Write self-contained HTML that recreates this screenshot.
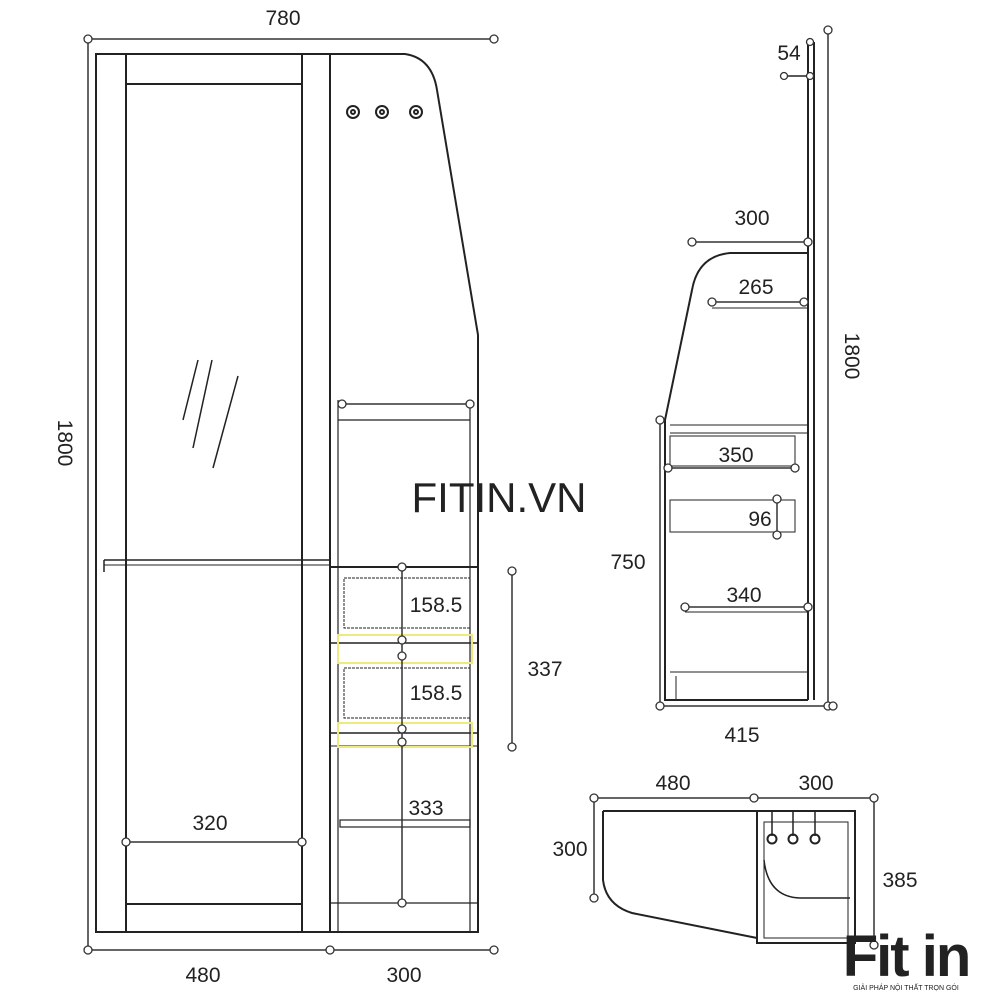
<!DOCTYPE html>
<html><head><meta charset="utf-8"><style>
html,body{margin:0;padding:0;background:#fff;}
svg{display:block;}
text{font-family:"Liberation Sans",sans-serif;fill:#222;}
</style></head><body>
<svg width="1000" height="1000" viewBox="0 0 1000 1000" xmlns="http://www.w3.org/2000/svg">
<g fill="none" stroke="#222" stroke-width="2">
<rect x="96" y="54" width="234" height="878"/>
<line x1="126" y1="54" x2="126" y2="932"/>
<line x1="302" y1="54" x2="302" y2="932"/>
<rect x="126" y="54" width="176" height="30"/>
<rect x="126" y="904" width="176" height="28"/>
<line x1="104" y1="560" x2="330" y2="560" stroke-width="1.5"/>
<line x1="104" y1="565" x2="330" y2="565" stroke-width="1"/>
<line x1="104" y1="560" x2="104" y2="572" stroke-width="1.5"/>
<line x1="198" y1="360" x2="183" y2="420" stroke-width="1.5"/>
<line x1="212" y1="360" x2="193" y2="448" stroke-width="1.5"/>
<line x1="238" y1="376" x2="213" y2="468" stroke-width="1.5"/>
<path d="M330 54 L405 54 Q432 58 437 90 L478 335 L478 932 L330 932"/>
<line x1="338" y1="400" x2="338" y2="932" stroke-width="1.2"/>
<line x1="470" y1="400" x2="470" y2="932" stroke-width="1.2"/>
<line x1="338" y1="420" x2="470" y2="420" stroke-width="1.2"/>
<line x1="330" y1="567" x2="478" y2="567"/>
<rect x="344" y="578" width="126" height="50" stroke-width="1" stroke-dasharray="3 1"/>
<rect x="344" y="668" width="126" height="50" stroke-width="1" stroke-dasharray="3 1"/>
<line x1="330" y1="643" x2="478" y2="643" stroke-width="1.5"/>
<line x1="330" y1="733" x2="478" y2="733" stroke-width="1.5"/>
<line x1="330" y1="746" x2="478" y2="746" stroke-width="1"/>
<rect x="340" y="820" width="130" height="7" stroke-width="1.2"/>
<line x1="330" y1="903" x2="478" y2="903" stroke-width="1.2"/>
<rect x="338" y="635" width="134" height="28" stroke="#eeea80" stroke-width="2"/>
<rect x="338" y="723" width="134" height="24" stroke="#eeea80" stroke-width="2"/>
<circle cx="353" cy="112" r="6"/><circle cx="382" cy="112" r="6"/><circle cx="416" cy="112" r="6"/>
<circle cx="353" cy="112" r="2"/><circle cx="382" cy="112" r="2"/><circle cx="416" cy="112" r="2"/>
<line x1="808" y1="42" x2="808" y2="700"/>
<line x1="814" y1="42" x2="814" y2="700"/>
<line x1="784" y1="76" x2="808" y2="76" stroke-width="1.5"/>
<path d="M808 253 L730 253 Q698 256 692 290 L665 420 L665 700 L808 700"/>
<line x1="670" y1="425" x2="808" y2="425" stroke-width="1"/>
<line x1="670" y1="433" x2="808" y2="433" stroke-width="1"/>
<rect x="670" y="436" width="125" height="30" stroke-width="1"/>
<rect x="670" y="500" width="125" height="32" stroke-width="1"/>
<line x1="712" y1="308" x2="808" y2="308" stroke-width="1"/>
<line x1="685" y1="612" x2="808" y2="612" stroke-width="1"/>
<line x1="670" y1="672" x2="808" y2="672" stroke-width="1"/>
<line x1="676" y1="676" x2="676" y2="700" stroke-width="1"/>
<path d="M603 811 L757 811 M603 811 L603 880 Q606 905 632 913 L757 938"/>
<rect x="757" y="811" width="98" height="132"/>
<rect x="764" y="822" width="84" height="116" stroke-width="1"/>
<path d="M764 860 Q768 897 800 898 L850 898" stroke-width="1.5"/>
<line x1="772" y1="812" x2="772" y2="836" stroke-width="1.5"/>
<line x1="793" y1="812" x2="793" y2="836" stroke-width="1.5"/>
<line x1="815" y1="812" x2="815" y2="836" stroke-width="1.5"/>
<circle cx="772" cy="839" r="4.5"/><circle cx="793" cy="839" r="4.5"/><circle cx="815" cy="839" r="4.5"/>
</g>
<g stroke="#333" stroke-width="1.5" fill="none">
<line x1="88" y1="39" x2="494" y2="39"/>
<line x1="88" y1="39" x2="88" y2="950"/>
<line x1="88" y1="950" x2="494" y2="950"/>
<line x1="342" y1="404" x2="470" y2="404"/>
<line x1="126" y1="842" x2="302" y2="842"/>
<line x1="402" y1="567" x2="402" y2="903"/>
<line x1="512" y1="571" x2="512" y2="747"/>
<line x1="828" y1="30" x2="828" y2="706"/>
<line x1="692" y1="242" x2="808" y2="242"/>
<line x1="712" y1="302" x2="808" y2="302"/>
<line x1="668" y1="468" x2="795" y2="468"/>
<line x1="777" y1="499" x2="777" y2="535"/>
<line x1="685" y1="607" x2="808" y2="607"/>
<line x1="660" y1="420" x2="660" y2="706"/>
<line x1="660" y1="706" x2="833" y2="706"/>
<line x1="594" y1="798" x2="874" y2="798"/>
<line x1="594" y1="798" x2="594" y2="898"/>
<line x1="874" y1="798" x2="874" y2="945"/>
</g>
<g fill="#fff" stroke="#333" stroke-width="1.3">
<circle cx="88" cy="39" r="4"/><circle cx="494" cy="39" r="4"/>
<circle cx="88" cy="950" r="4"/><circle cx="330" cy="950" r="4"/><circle cx="494" cy="950" r="4"/>
<circle cx="342" cy="404" r="4"/><circle cx="470" cy="404" r="4"/>
<circle cx="126" cy="842" r="4"/><circle cx="302" cy="842" r="4"/>
<circle cx="402" cy="567" r="4"/><circle cx="402" cy="640" r="4"/><circle cx="402" cy="656" r="4"/>
<circle cx="402" cy="729" r="4"/><circle cx="402" cy="742" r="4"/><circle cx="402" cy="903" r="4"/>
<circle cx="512" cy="571" r="4"/><circle cx="512" cy="747" r="4"/>
<circle cx="828" cy="30" r="4"/><circle cx="828" cy="706" r="4"/>
<circle cx="810" cy="42" r="3.5"/><circle cx="810" cy="76" r="3.5"/><circle cx="784" cy="76" r="3.5"/>
<circle cx="692" cy="242" r="4"/><circle cx="808" cy="242" r="4"/>
<circle cx="712" cy="302" r="4"/><circle cx="804" cy="302" r="4"/>
<circle cx="668" cy="468" r="4"/><circle cx="795" cy="468" r="4"/>
<circle cx="777" cy="499" r="4"/><circle cx="777" cy="535" r="4"/>
<circle cx="685" cy="607" r="4"/><circle cx="808" cy="607" r="4"/>
<circle cx="660" cy="420" r="4"/><circle cx="660" cy="706" r="4"/><circle cx="833" cy="706" r="4"/>
<circle cx="594" cy="798" r="4"/><circle cx="754" cy="798" r="4"/><circle cx="874" cy="798" r="4"/>
<circle cx="594" cy="898" r="4"/><circle cx="874" cy="945" r="4"/>
</g>
<g font-size="21">
<text x="283" y="25" text-anchor="middle">780</text>
<text transform="translate(58,443) rotate(90)" text-anchor="middle">1800</text>
<text x="203" y="982" text-anchor="middle">480</text>
<text x="404" y="982" text-anchor="middle">300</text>
<text x="210" y="830" text-anchor="middle">320</text>
<text x="436" y="612" text-anchor="middle">158.5</text>
<text x="436" y="700" text-anchor="middle">158.5</text>
<text x="426" y="815" text-anchor="middle">333</text>
<text x="545" y="676" text-anchor="middle">337</text>
<text x="789" y="60" text-anchor="middle">54</text>
<text x="752" y="225" text-anchor="middle">300</text>
<text x="756" y="294" text-anchor="middle">265</text>
<text transform="translate(845,356) rotate(90)" text-anchor="middle">1800</text>
<text x="736" y="462" text-anchor="middle">350</text>
<text x="760" y="526" text-anchor="middle">96</text>
<text x="628" y="569" text-anchor="middle">750</text>
<text x="744" y="602" text-anchor="middle">340</text>
<text x="742" y="742" text-anchor="middle">415</text>
<text x="673" y="790" text-anchor="middle">480</text>
<text x="816" y="790" text-anchor="middle">300</text>
<text x="570" y="856" text-anchor="middle">300</text>
<text x="900" y="887" text-anchor="middle">385</text>
</g>
<text x="499" y="512" font-size="42" text-anchor="middle" fill="#333">FITIN.VN</text>
<text x="906" y="976" font-size="58" font-weight="bold" text-anchor="middle" fill="#111" letter-spacing="-2">Fit in</text>
<text x="906" y="990" font-size="7" text-anchor="middle" fill="#444">GIẢI PHÁP NỘI THẤT TRỌN GÓI</text>
</svg>
</body></html>
